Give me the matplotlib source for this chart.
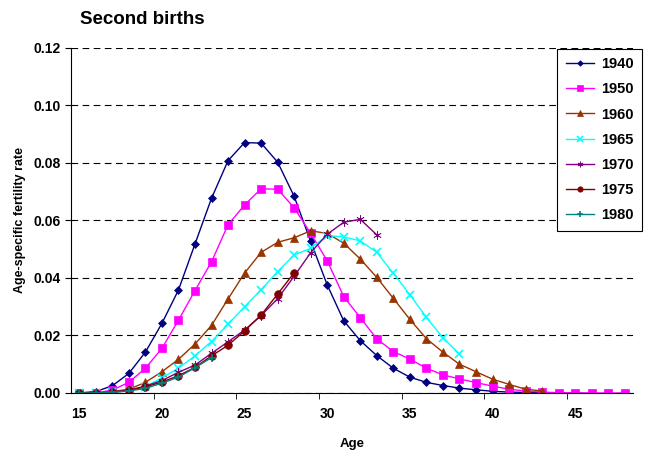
import matplotlib
matplotlib.use("Agg")
import matplotlib.pyplot as plt
import numpy as np

plt.rcParams["font.family"] = ["Liberation Sans", "DejaVu Sans"]
plt.rcParams["font.weight"] = "bold"

# age-specific second-birth rates by cohort
r1940 = [0.0, 0.0005, 0.0025, 0.0068, 0.0142, 0.0242, 0.0358, 0.0518, 0.0677, 0.0808,
         0.0871, 0.0869, 0.0803, 0.0684, 0.0527, 0.0376, 0.0251, 0.0182, 0.0130, 0.0086,
         0.0055, 0.0037, 0.0026, 0.0017, 0.0011, 0.0006, 0.0003, 0.0002, 0.0001]
r1950 = [0.0, 0.0, 0.0010, 0.0037, 0.0086, 0.0155, 0.0253, 0.0356, 0.0456, 0.0585,
         0.0654, 0.0710, 0.0709, 0.0644, 0.0555, 0.0460, 0.0335, 0.0262, 0.0188, 0.0144,
         0.0118, 0.0086, 0.0063, 0.0049, 0.0036, 0.0024, 0.0013, 0.0007, 0.0003, 0.0001,
         0.0001, 0.0, 0.0, 0.0]
r1960 = [0.0, 0.0, 0.0005, 0.0013, 0.0037, 0.0074, 0.0117, 0.0170, 0.0235, 0.0327,
         0.0417, 0.0489, 0.0524, 0.0540, 0.0564, 0.0555, 0.0521, 0.0466, 0.0402, 0.0329,
         0.0256, 0.0189, 0.0142, 0.0100, 0.0074, 0.0048, 0.0030, 0.0013, 0.0007]
r1965 = [0.0, 0.0, 0.0003, 0.0008, 0.0022, 0.0053, 0.0086, 0.0129, 0.0179, 0.0239,
         0.0300, 0.0359, 0.0422, 0.0480, 0.0503, 0.0547, 0.0543, 0.0529, 0.0489, 0.0416,
         0.0342, 0.0263, 0.0192, 0.0135]
r1970 = [0.0, 0.0, 0.0003, 0.0010, 0.0024, 0.0043, 0.0072, 0.0097, 0.0138, 0.0178,
         0.0219, 0.0269, 0.0328, 0.0406, 0.0488, 0.0552, 0.0594, 0.0604, 0.0550]
r1975 = [0.0, 0.0, 0.0003, 0.0009, 0.0021, 0.0038, 0.0060, 0.0089, 0.0129, 0.0166,
         0.0216, 0.0271, 0.0344, 0.0418]
r1980 = [0.0, 0.0, 0.0002, 0.0007, 0.0016, 0.0034, 0.0055, 0.0088, 0.0123]

cohorts = ["1940", "1950", "1960", "1965", "1970", "1975", "1980"]
rates = [r1940, r1950, r1960, r1965, r1970, r1975, r1980]
first_age = 15
age_labels = [15, 20, 25, 30, 35, 40, 45]

colors = ["#000080", "#FF00FF", "#993300", "#00FFFF", "#800080", "#800000", "#008080"]
markers = ["D", "s", "^", "x", (6, 2, 0), "o", "+"]
msizes = [4, 6, 6, 6, 6, 5.5, 6]

fig = plt.figure(figsize=(6.46, 4.53), dpi=100)
ax = fig.add_axes([0.1099, 0.1325, 0.870, 0.7616])

for name, vals, c, m, ms in zip(cohorts, rates, colors, markers, msizes):
    ages = np.arange(first_age, first_age + len(vals))
    ax.plot(ages, vals, color=c, marker=m, markersize=ms, lw=1.0,
            markeredgewidth=1.2 if m in ("x", "+") else 0.5, label=name)

ax.set_xlim(14.5, 48.5)
ax.set_ylim(0, 0.12)
ax.set_yticks(np.arange(0, 0.121, 0.02))
ax.set_yticklabels([f"{v:.2f}" for v in np.arange(0, 0.121, 0.02)])
ax.set_xticks(age_labels)
ax.set_xticklabels([str(a) for a in age_labels])
ax.set_xticks([19.5, 24.5, 29.5, 34.5, 39.5, 44.5], minor=True)
ax.tick_params(axis="x", which="major", length=0, pad=10, labelsize=10)
ax.tick_params(axis="x", which="minor", length=4, direction="out")
ax.tick_params(axis="y", length=4, direction="out", labelsize=10)
for lbl in ax.get_xticklabels() + ax.get_yticklabels():
    lbl.set_fontweight("bold")

ax.yaxis.grid(True, color="black", linestyle=(0, (6, 4)), lw=0.8)
ax.set_axisbelow(True)
for s in ("top", "right"):
    ax.spines[s].set_visible(False)

ax.set_xlabel("Age", fontsize=9.5, fontweight="bold", labelpad=12)
ax.set_ylabel("Age-specific fertility rate", fontsize=9, fontweight="bold", labelpad=5)
fig.text(0.124, 0.958, "Second births", fontsize=13.5, fontweight="bold", va="center")

leg = ax.legend(loc="upper left", bbox_to_anchor=(0.865, 0.998), fancybox=False,
                edgecolor="black", framealpha=1, prop={"weight": "bold", "size": 10.5},
                handlelength=1.9, labelspacing=0.76, borderpad=0.6, handletextpad=0.5,
                markerscale=0.7, borderaxespad=0)
leg.get_frame().set_linewidth(0.8)

fig.savefig("out.png", dpi=100)
